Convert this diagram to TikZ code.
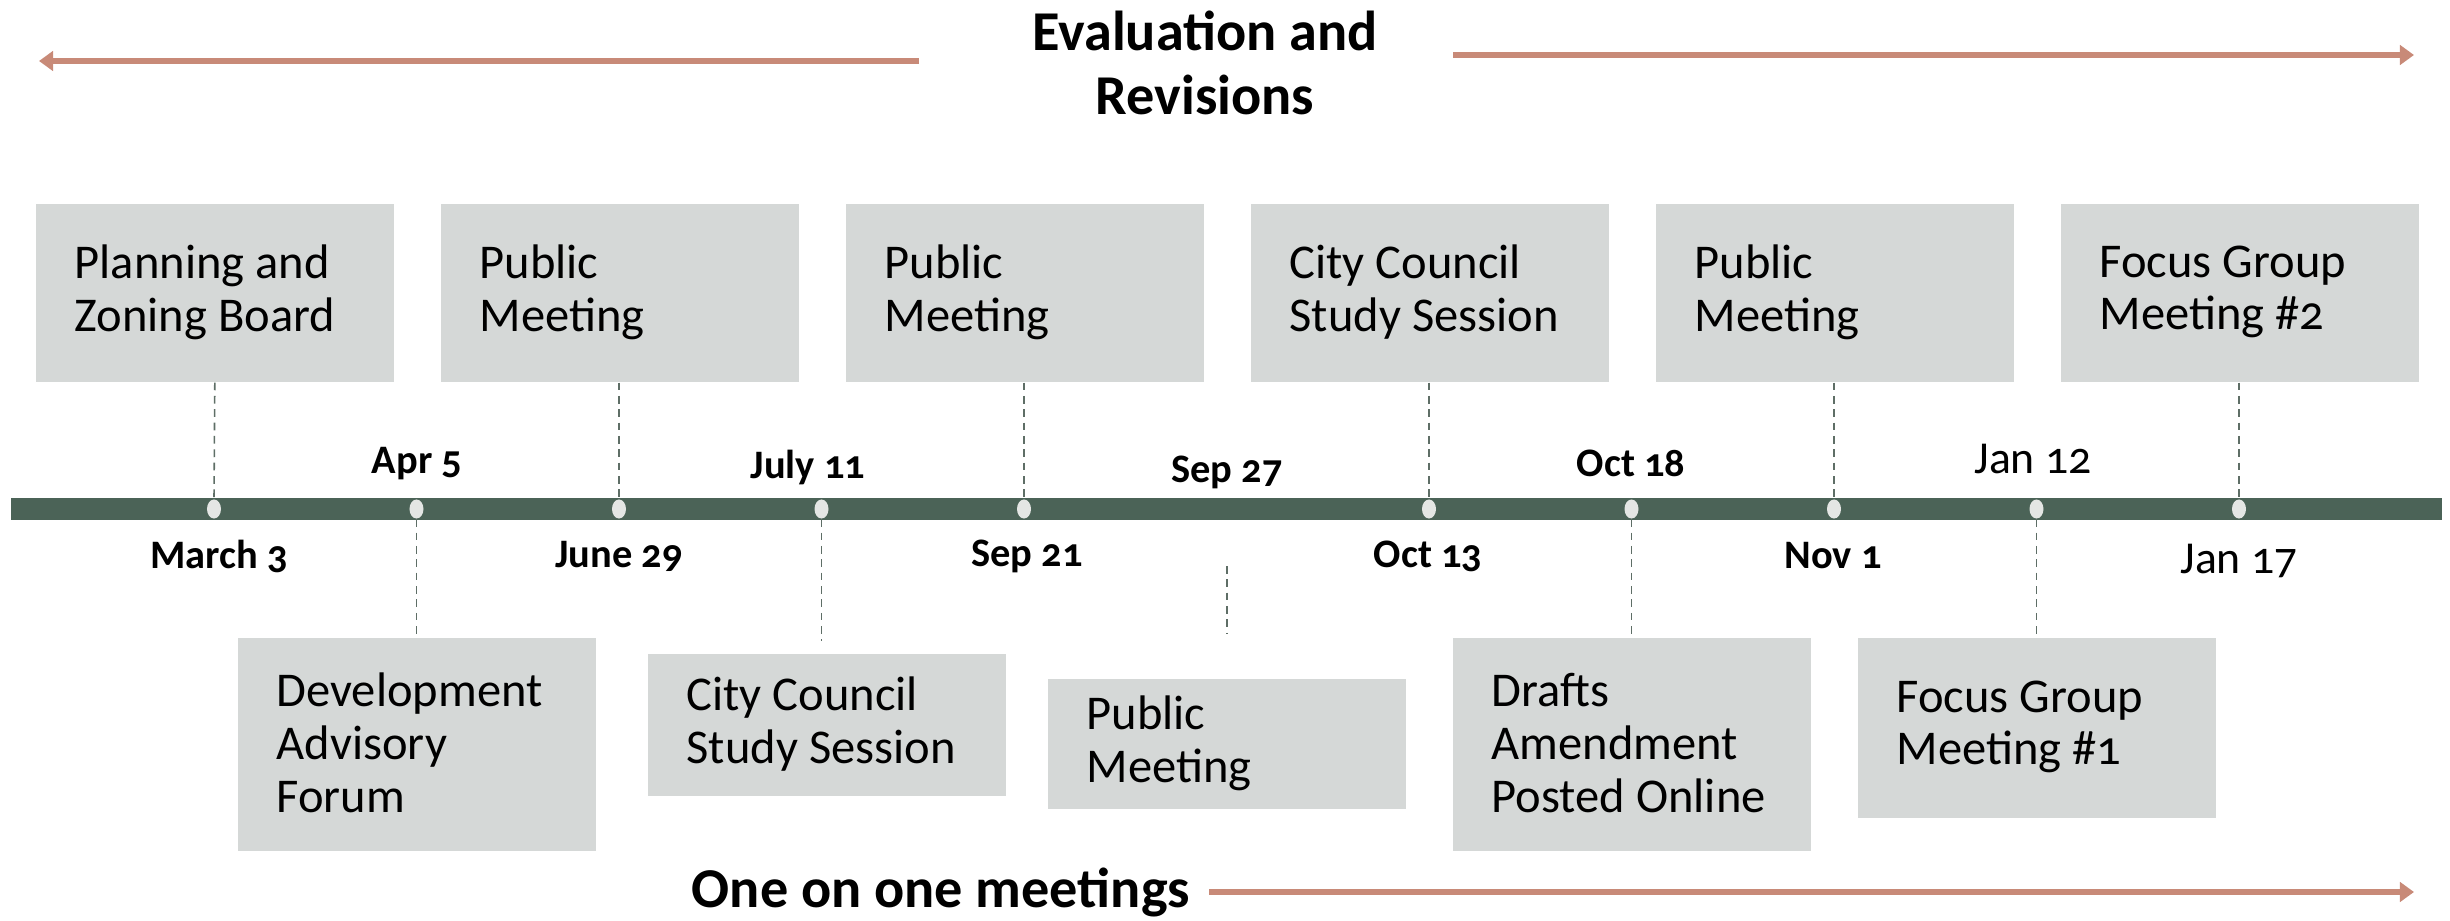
\documentclass[tikz,border=0pt]{standalone}
\usepackage{fontspec}
\setmainfont{Carlito}[Numbers=OldStyle]
\usetikzlibrary{arrows.meta,shapes.geometric}
\definecolor{boxgray}{HTML}{D5D8D7}
\definecolor{barcol}{HTML}{4B6357}
\definecolor{dotcol}{HTML}{E4E6E4}
\definecolor{dashcol}{HTML}{5E6E66}
\definecolor{arrowcol}{HTML}{C88A78}

\begin{document}
\begin{tikzpicture}[x=0.01cm,y=-0.01cm,
  evbox/.style={fill=boxgray, draw=none, minimum width=3.58cm, inner sep=0pt, anchor=north west},
  evtext/.style={anchor=west, align=left, inner sep=0pt, font=\fontsize{13.8}{15}\selectfont},
  datebold/.style={font=\fontsize{11.5}{13}\selectfont\bfseries, inner sep=0pt},
  datereg/.style={font=\fontsize{13}{15}\selectfont, inner sep=0pt},
  tick/.style={ellipse, fill=dotcol, minimum width=0.14cm, minimum height=0.19cm, inner sep=0pt},
  guide/.style={dashcol, line width=0.45pt, dash pattern=on 2.2pt off 1.6pt},
  span/.style={arrowcol, line width=1.5pt, -{Triangle[length=4pt,width=5.5pt]}},
  heading/.style={font=\fontsize{16}{18.2}\selectfont\bfseries, align=center, inner sep=0pt}]

\useasboundingbox (0,0) rectangle (2450,921);

% phase headings and their arrows
\node[heading] (evalhead) at (1205,63) {Evaluation and\\Revisions};
\coordinate (evalL0) at (919,61);
\coordinate (evalL1) at (39,61);
\coordinate (evalR0) at (1453,55);
\coordinate (evalR1) at (2414,55);
\draw[span] (evalL0) -- (evalL1);
\draw[span] (evalR0) -- (evalR1);

\node[heading, anchor=center] (onehead) at (941,892) {One on one meetings};
\coordinate (one0) at (1209,892);
\coordinate (one1) at (2414,892);
\draw[span] (one0) -- (one1);

% events above the timeline
\node[evbox, minimum height=1.78cm] (t1) at (35,203) {};
\node[evbox, minimum height=1.78cm] (t2) at (440,203) {};
\node[evbox, minimum height=1.78cm] (t3) at (845,203) {};
\node[evbox, minimum height=1.78cm] (t4) at (1250,203) {};
\node[evbox, minimum height=1.78cm] (t5) at (1655,203) {};
\node[evbox, minimum height=1.78cm] (t6) at (2060,203) {};
\node[evtext] (t1txt) at (74,292) {Planning and\\Zoning Board};
\node[evtext] (t2txt) at (479,292) {Public\\Meeting};
\node[evtext] (t3txt) at (884,292) {Public\\Meeting};
\node[evtext] (t4txt) at (1289,292) {City Council\\Study Session};
\node[evtext] (t5txt) at (1694,292) {Public\\Meeting};
\node[evtext] (t6txt) at (2099,292) {Focus Group\\Meeting \#2};

% events below the timeline
\node[evbox, minimum height=2.13cm] (b1) at (237,637) {};
\node[evbox, minimum height=1.42cm] (b2) at (647,653) {};
\node[evbox, minimum height=1.30cm] (b3) at (1047,678) {};
\node[evbox, minimum height=2.13cm] (b4) at (1452,637) {};
\node[evbox, minimum height=1.80cm] (b5) at (1857,637) {};
\node[evtext] (b1txt) at (276,743) {Development\\Advisory\\Forum};
\node[evtext] (b2txt) at (686,724) {City Council\\Study Session};
\node[evtext] (b3txt) at (1086,743) {Public\\Meeting};
\node[evtext] (b4txt) at (1491,743) {Drafts\\Amendment\\Posted Online};
\node[evtext] (b5txt) at (1896,727) {Focus Group\\Meeting \#1};

% the timeline bar and its markers
\node[fill=barcol, minimum width=24.29cm, minimum height=0.22cm, inner sep=0pt] (bar) at (1226.5,509) {};
\node[tick] (d1) at (214,509) {};
\node[tick] (d2) at (416.5,509) {};
\node[tick] (d3) at (619,509) {};
\node[tick] (d4) at (821.5,509) {};
\node[tick] (d5) at (1024,509) {};
\node[tick] (d7) at (1429,509) {};
\node[tick] (d8) at (1631.5,509) {};
\node[tick] (d9) at (1834,509) {};
\node[tick] (d10) at (2036.5,509) {};
\node[tick] (d11) at (2239,509) {};

% dashed leaders
\draw[guide] (t1.south) -- (d1.north);
\draw[guide] (t2.south -| d3) -- (d3.north);
\draw[guide] (t3.south -| d5) -- (d5.north);
\draw[guide] (t4.south -| d7) -- (d7.north);
\draw[guide] (t5.south -| d9) -- (d9.north);
\draw[guide] (t6.south -| d11) -- (d11.north);
\draw[guide] (d2.south) -- (d2 |- b1.north);
\coordinate (d4end) at (821.5,641);
\draw[guide] (d4.south) -- (d4end);
\coordinate (sep27a) at (1227,566);
\coordinate (sep27b) at (1227,634);
\draw[guide] (sep27a) -- (sep27b);
\draw[guide] (d8.south) -- (d8 |- b4.north);
\draw[guide] (d10.south) -- (d10 |- b5.north);

% dates
\node[datebold] (l1) at (219,556) {March 3};
\node[datebold] (l2) at (417,464) {Apr 5};
\node[datebold] (l3) at (619,556) {June 29};
\node[datebold] (l4) at (808,467) {July 11};
\node[datebold] (l5) at (1027,556) {Sep 21};
\node[datebold] (l6) at (1227,472) {Sep 27};
\node[datebold] (l7) at (1428,556) {Oct 13};
\node[datebold] (l8) at (1631,463) {Oct 18};
\node[datebold] (l9) at (1833,556) {Nov 1};
\node[datereg] (l10) at (2033,459) {Jan 12};
\node[datereg] (l11) at (2239,561) {Jan 17};
\end{tikzpicture}
\end{document}
